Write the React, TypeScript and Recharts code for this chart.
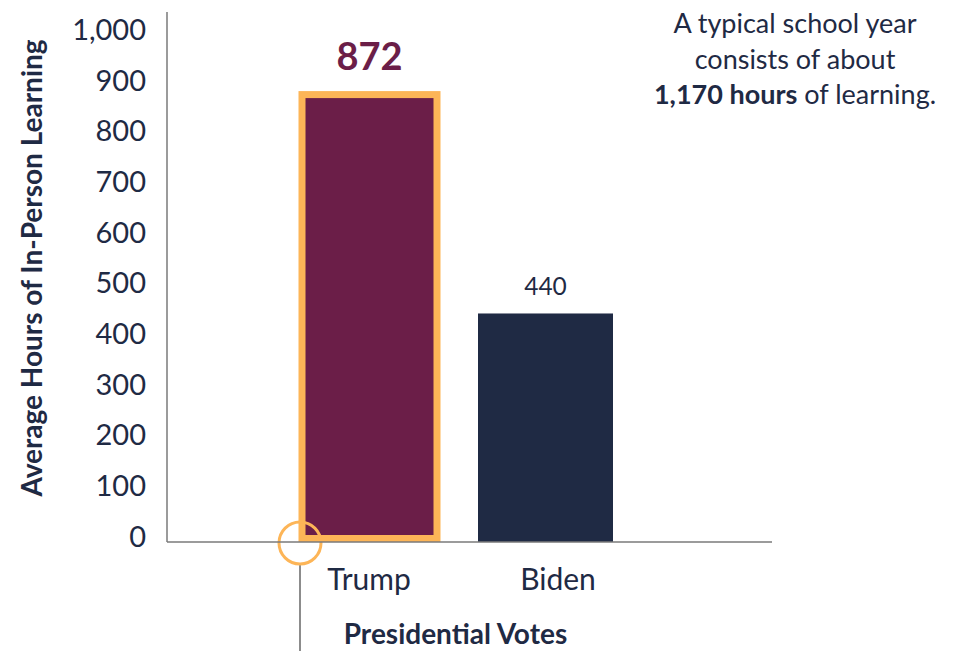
import React from 'react';
import { BarChart, Bar, XAxis, YAxis, LabelList, Label } from 'recharts';

const categories = ['Trump', 'Biden'];
const hours = [872, 440];
const yTicks = [0, 100, 200, 300, 400, 500, 600, 700, 800, 900, 1000];
const yDomain = [-11, 1035];
const yAxisTitle = 'Average Hours of In-Person Learning';
const xAxisTitle = 'Presidential Votes';
const noteLines = ['A typical school year', 'consists of about'];
const noteBold = '1,170 hours';
const noteTail = ' of learning.';

const data = categories.map((name, i) => ({ name, hours: hours[i] }));

const NAVY = '#1f2a44';
const PURPLE = '#6b1e48';
const ORANGE = '#fdb557';
const AXIS = '#7a7a7a';
const FONT = 'Lato, "Noto Sans", sans-serif';
const tickShift = [0, 13];

const BarShape = (props: any) => {
  const { x, y, width, height, index, background } = props;
  const bottom = background ? background.y + background.height : y + height;
  const h = bottom - y;
  if (index === 0) {
    const sw = 7;
    const r = 21;
    return (
      <g>
        <rect x={x} y={y} width={width} height={h - sw / 2} fill={PURPLE} stroke={ORANGE} strokeWidth={sw} />
        <line x1={x - 2} y1={bottom + r} x2={x - 2} y2={651} stroke="#666" strokeWidth={1.5} />
        <circle cx={x - 2} cy={bottom + 1} r={r} fill="none" stroke={ORANGE} strokeWidth={3} />
      </g>
    );
  }
  return <rect x={x} y={y} width={width} height={h} fill={NAVY} />;
};

const ValueLabel = (props: any) => {
  const { x, y, width, value, index } = props;
  if (index === 0) {
    return (
      <text x={x + width / 2} y={y - 25} textAnchor="middle" fill={PURPLE} fontSize={38} fontWeight={700} fontFamily={FONT}>
        {value}
      </text>
    );
  }
  return (
    <text x={x + width / 2} y={y - 18} textAnchor="middle" fill={NAVY} fontSize={24.5} fontFamily={FONT}>
      {value}
    </text>
  );
};

const XTick = (props: any) => {
  const { x, y, payload, index } = props;
  return (
    <text x={x + (tickShift[index] || 0)} y={y} dy="0.71em" textAnchor="middle" fill={NAVY} fontSize={30} fontFamily={FONT}>
      {payload.value}
    </text>
  );
};

const YTitle = (props: any) => {
  const vb = props.viewBox || { x: 0, y: 0, width: 0, height: 0 };
  const cx = vb.x + 42;
  const cy = 268;
  return (
    <text x={cx} y={cy} transform={`rotate(-90, ${cx}, ${cy})`} textAnchor="middle" fill={NAVY} fontSize={28} fontWeight={700} fontFamily={FONT}>
      {yAxisTitle}
    </text>
  );
};

const XTitle = (props: any) => {
  const vb = props.viewBox || { x: 0, y: 0, width: 0, height: 0 };
  return (
    <text x={vb.x + vb.width / 2 - 14} y={vb.y + 102} textAnchor="middle" fill={NAVY} fontSize={28} fontWeight={700} fontFamily={FONT}>
      {xAxisTitle}
    </text>
  );
};

export default function App() {
  return (
    <div style={{ position: 'absolute', left: 0, top: 0, width: 960, height: 651, background: '#fff' }}>
      <BarChart width={960} height={651} data={data} margin={{ top: 12, right: 188, bottom: 49, left: 0 }}>
        <YAxis
          type="number"
          domain={yDomain}
          ticks={yTicks}
          width={167}
          axisLine={{ stroke: AXIS, strokeWidth: 1.5 }}
          tickLine={false}
          tickSize={0}
          tickMargin={21}
          tick={{ fill: NAVY, fontSize: 29, fontFamily: FONT }}
          tickFormatter={(v: number) => v.toLocaleString('en-US')}
        >
          <Label content={<YTitle />} />
        </YAxis>
        <XAxis
          dataKey="name"
          height={60}
          padding={{ left: 114, right: 139 }}
          axisLine={{ stroke: AXIS, strokeWidth: 1.5 }}
          tickLine={false}
          tickSize={0}
          tickMargin={27}
          tick={<XTick />}
        >
          <Label content={<XTitle />} />
        </XAxis>
        <Bar dataKey="hours" barSize={135} shape={<BarShape />} isAnimationActive={false}>
          <LabelList dataKey="hours" content={<ValueLabel />} />
        </Bar>
      </BarChart>
      <div
        style={{
          position: 'absolute',
          left: 645,
          top: 5,
          width: 300,
          textAlign: 'center',
          color: NAVY,
          fontFamily: FONT,
          fontSize: 27,
          lineHeight: '35.5px',
        }}
      >
        <div>{noteLines[0]}</div>
        <div>{noteLines[1]}</div>
        <div>
          <b>{noteBold}</b>
          {noteTail}
        </div>
      </div>
    </div>
  );
}
